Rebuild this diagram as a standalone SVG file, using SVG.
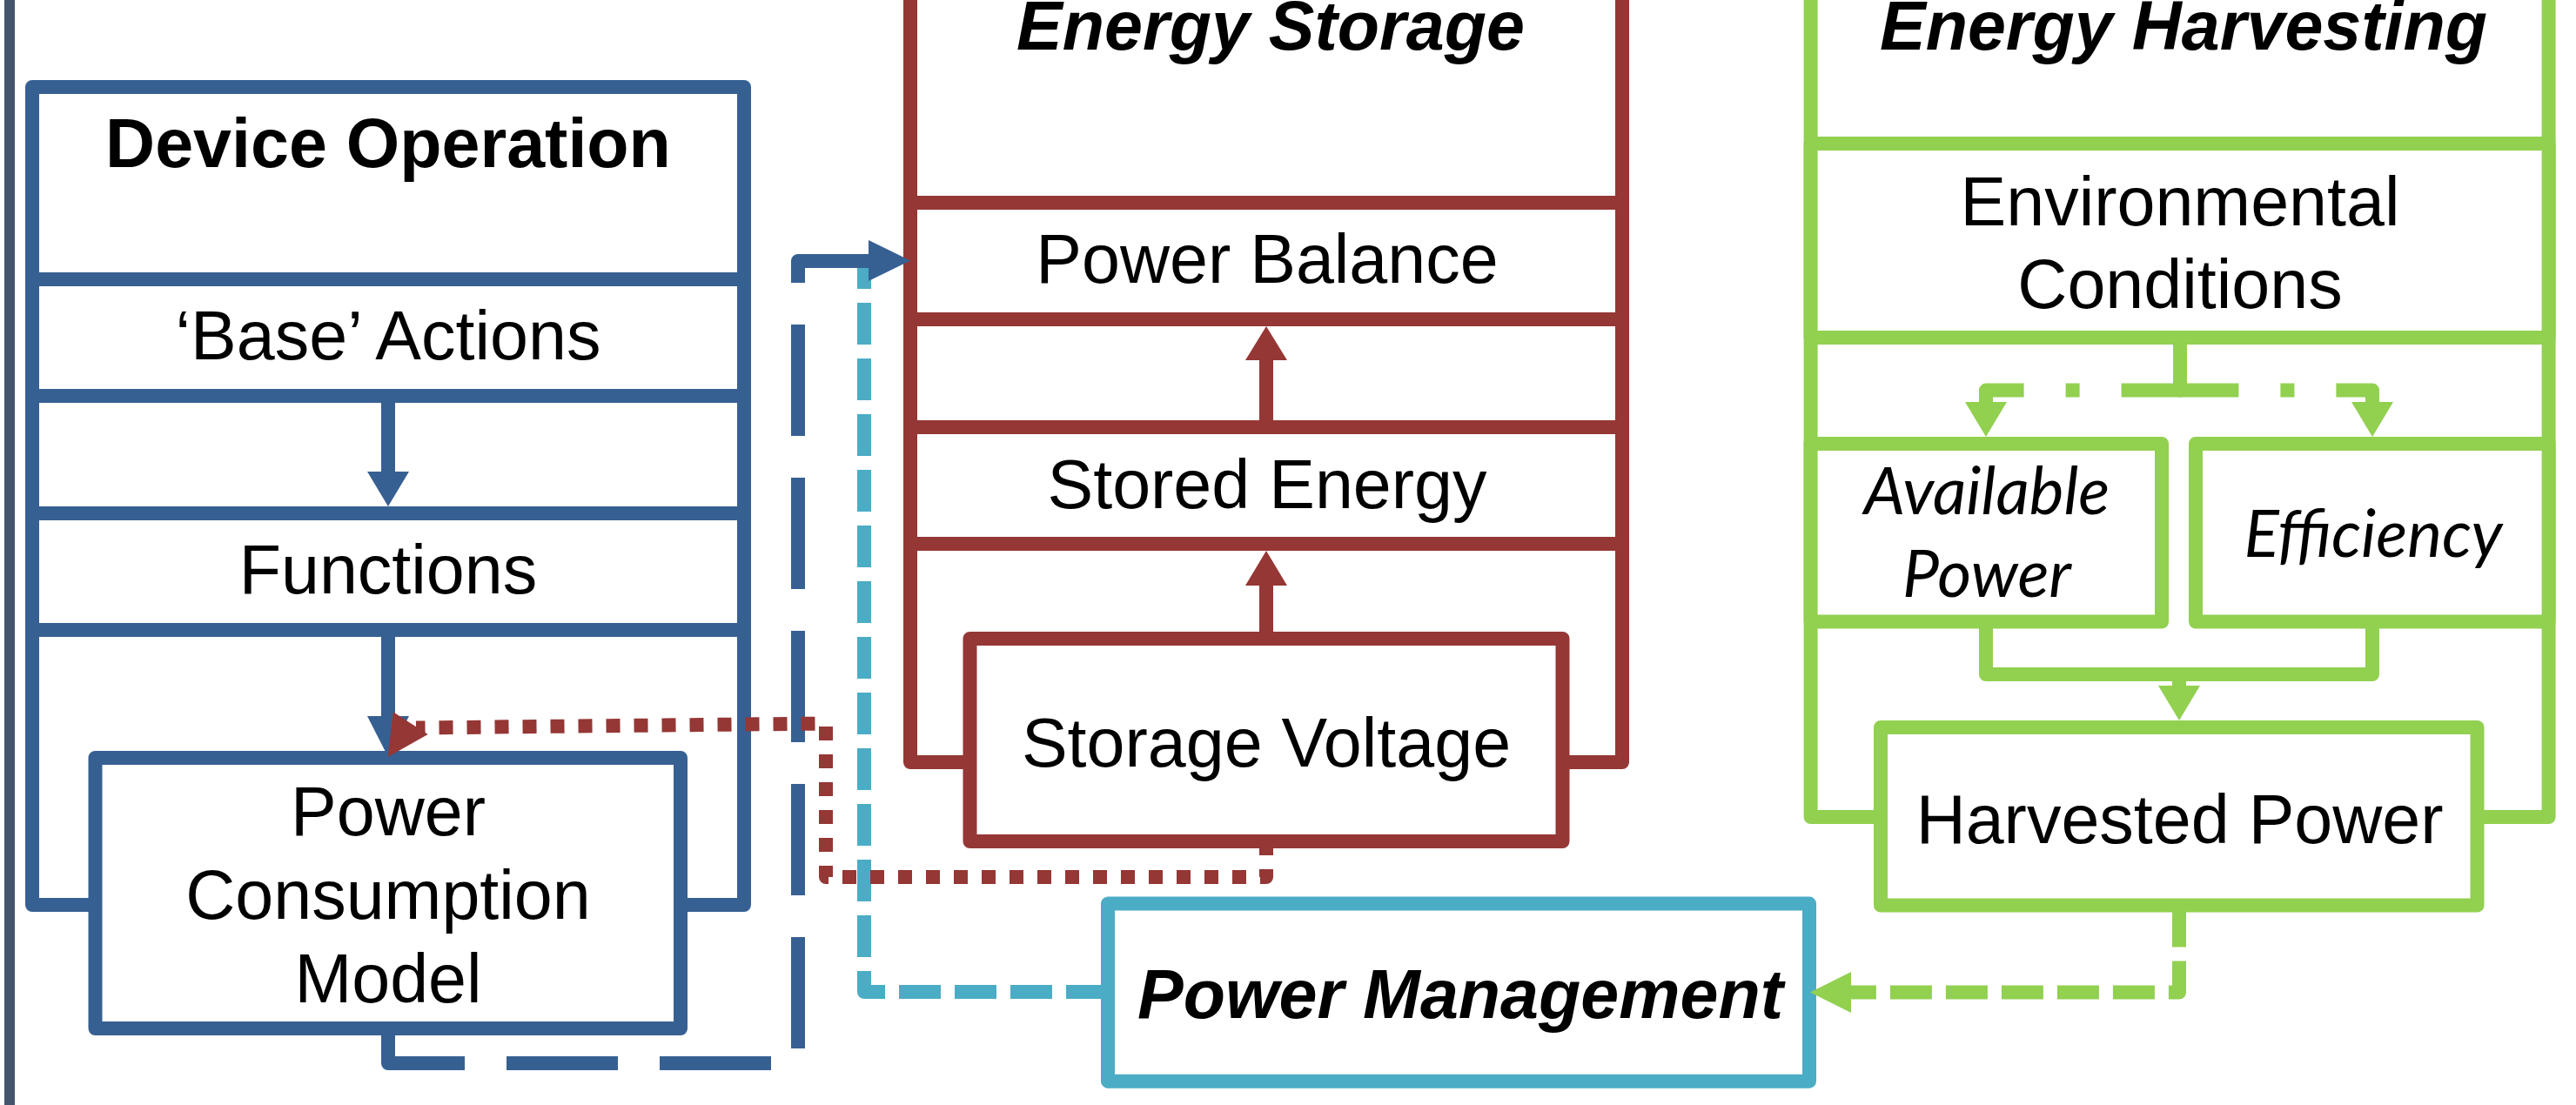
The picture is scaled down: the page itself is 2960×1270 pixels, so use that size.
<svg xmlns="http://www.w3.org/2000/svg" width="2960" height="1270" viewBox="0 0 2960 1270">
<style>
.t{font-family:"Liberation Sans",Arial,sans-serif;font-size:79px;fill:#000;text-anchor:middle}
.b{font-weight:bold}
.bi{font-weight:bold;font-style:italic}
.c{font-family:Lato,"Open Sans",sans-serif;font-style:italic;font-size:75px;fill:#000;text-anchor:middle}
.blue{stroke:#376092}
.red{stroke:#953735}
.green{stroke:#92D050}
.cyan{stroke:#4BACC6}
.box{fill:#fff;stroke-width:16;stroke-linejoin:round}
.fr{fill:none;stroke-width:16;stroke-linejoin:round}
.ln{fill:none;stroke-width:16;stroke-linejoin:round}
</style>
<rect x="0" y="0" width="2960" height="1270" fill="#fff"/>
<line x1="11" y1="0" x2="11" y2="1270" stroke="#44546A" stroke-width="12"/>

<g id="device-operation">
<path class="fr blue" d="M109.5 1040 H37 V100 H855 V1040 H782"/>
<text class="t b" x="446" y="192">Device Operation</text>
</g>
<g id="base-actions">
<rect class="box blue" x="37" y="321" width="818" height="134"/>
<text class="t" x="446" y="413">‘Base’ Actions</text>
</g>
<g id="functions">
<rect class="box blue" x="37" y="590" width="818" height="134"/>
<text class="t" x="446" y="682">Functions</text>
</g>
<g id="power-consumption-model">
<rect class="box blue" x="109.5" y="871" width="672.5" height="311"/>
<text class="t" x="446" y="960">Power</text>
<text class="t" x="446" y="1056">Consumption</text>
<text class="t" x="446" y="1152">Model</text>
</g>

<g id="energy-storage">
<path class="fr red" d="M1114.5 876 H1046 V-30 H1864 V876 H1795.5"/>
<text class="t bi" x="1460" y="57">Energy Storage</text>
</g>
<g id="power-balance">
<rect class="box red" x="1046" y="233" width="818" height="134"/>
<text class="t" x="1456" y="325">Power Balance</text>
</g>
<g id="stored-energy">
<rect class="box red" x="1046" y="491" width="818" height="134"/>
<text class="t" x="1456" y="584">Stored Energy</text>
</g>
<g id="storage-voltage">
<rect class="box red" x="1114.5" y="734" width="681" height="233"/>
<text class="t" x="1455" y="881">Storage Voltage</text>
</g>

<g id="energy-harvesting">
<path class="fr green" d="M2161 939 H2080.6 V-30 H2928.6 V939 H2846.5"/>
<text class="t bi" x="2509" y="57">Energy Harvesting</text>
</g>
<g id="environmental-conditions">
<rect class="box green" x="2080.6" y="165" width="848" height="223"/>
<text class="t" x="2505" y="259">Environmental</text>
<text class="t" x="2505" y="354">Conditions</text>
</g>
<g id="available-power">
<rect class="box green" x="2080.6" y="510" width="403.4" height="204.5"/>
<text class="c" x="2283" y="591">Available</text>
<text class="c" x="2283" y="686">Power</text>
</g>
<g id="efficiency">
<rect class="box green" x="2523" y="510" width="405.6" height="204.5"/>
<text class="c" x="2727" y="640">Efficiency</text>
</g>
<g id="harvested-power">
<rect class="box green" x="2161" y="836" width="685.5" height="204.6"/>
<text class="t" x="2504.6" y="968.6">Harvested Power</text>
</g>

<g id="power-management">
<rect class="box cyan" x="1273" y="1038.6" width="806" height="204.1"/>
<text class="t bi" x="1678" y="1170">Power Management</text>
</g>

<g id="connectors">
<line class="ln blue" x1="446" y1="463" x2="446" y2="544"/>
<polygon fill="#376092" points="422,542 470,542 446,582"/>
<line class="ln blue" x1="446" y1="732" x2="446" y2="825"/>
<polygon fill="#376092" points="422,823 470,823 446,870"/>
<line class="ln red" x1="1455" y1="483" x2="1455" y2="412"/>
<polygon fill="#953735" points="1431,414 1479,414 1455,375"/>
<line class="ln red" x1="1455" y1="726" x2="1455" y2="671"/>
<polygon fill="#953735" points="1431,673 1479,673 1455,633"/>
<path class="ln green" stroke-dasharray="128 48 16 48" d="M2505 388 V448.6 H2282 V464"/>
<path class="ln green" stroke-dasharray="128 48 16 48" d="M2505 388 V448.6 H2726 V464"/>
<polygon fill="#92D050" points="2258,462 2306,462 2282,502"/>
<polygon fill="#92D050" points="2702,462 2750,462 2726,502"/>
<path class="ln green" d="M2282 722 V775 H2726 V722"/>
<line class="ln green" x1="2504" y1="775" x2="2504" y2="790"/>
<polygon fill="#92D050" points="2480,788 2528,788 2504,828"/>
<path class="ln green" stroke-dasharray="48 16" d="M2504 1040.6 V1140.5 H2125"/>
<polygon fill="#92D050" points="2127,1117 2127,1164 2080,1140.5"/>
<path class="ln cyan" stroke-dasharray="48 16" d="M1273 1140 H993 V300"/>
<path class="ln blue" stroke-dasharray="128 48" d="M446 1182 V1222 H917 V300 H1000"/>
<polygon fill="#376092" points="998,276 998,323 1046,299.5"/>
<path class="ln red" stroke-linejoin="miter" stroke-dasharray="16 16" d="M1455 967 V1008 H949 V831.5 L478 836.5"/>
<polygon fill="#953735" points="451.7,818.3 491.7,844 445.7,870"/>
</g>
</svg>
